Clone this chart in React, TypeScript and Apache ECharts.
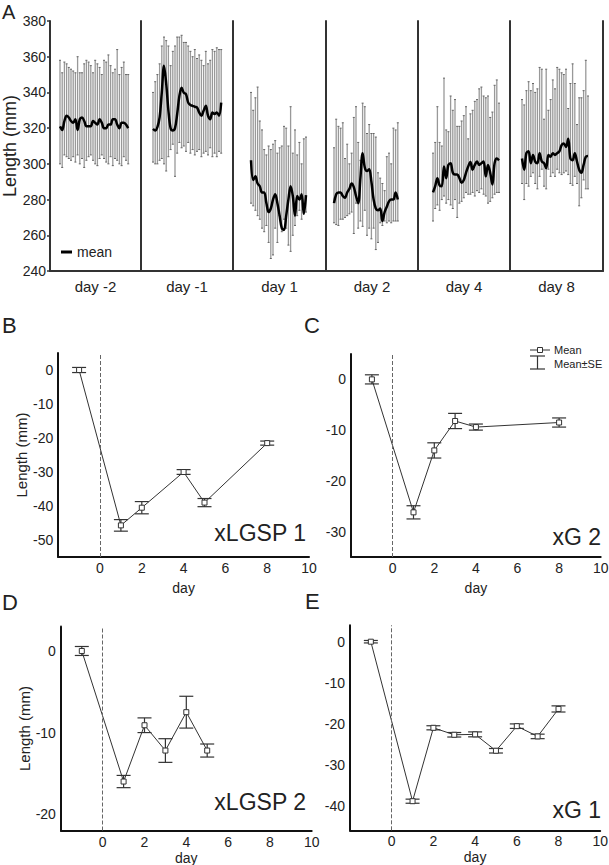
import React, { useEffect, useRef } from 'react';
import * as echarts from 'echarts';

const FONT = "'Liberation Sans', Arial, Helvetica, sans-serif";

// ---------- Panel A data ----------
const dayLabels = ['day -2', 'day -1', 'day 1', 'day 2', 'day 4', 'day 8'];

const topsDm2 = [358, 351, 357, 356, 354, 353, 352, 351, 360, 351, 351, 356, 358, 357, 355, 351, 358, 356, 354, 350, 358, 357, 361, 355, 351, 353, 364, 350, 354, 357, 350, 350];
const botsDm2 = [300, 298, 305, 304, 303, 302, 304, 301, 305, 300, 303, 298, 302, 304, 305, 302, 300, 299, 303, 305, 303, 301, 300, 304, 299, 303, 302, 300, 299, 304, 302, 300];
const meanDm2 = [321, 319, 324, 327, 326, 324, 323, 325, 319, 325, 326, 324, 321, 321, 321, 324, 323, 322, 325, 323, 320, 320, 322, 322, 325, 325, 322, 320, 323, 323, 322, 320];

const topsDm1 = [340, 346, 350, 356, 366, 371, 369, 366, 355, 363, 366, 371, 371, 372, 368, 368, 366, 363, 360, 364, 359, 361, 358, 355, 363, 356, 358, 364, 363, 365, 364, 364];
const botsDm1 = [301, 300, 300, 302, 303, 300, 296, 304, 308, 311, 293, 306, 312, 309, 310, 307, 312, 306, 308, 305, 307, 308, 304, 306, 307, 305, 309, 304, 306, 304, 307, 306];
const meanDm1 = [319.6, 318.7, 320.6, 326, 340, 355, 345, 330, 320, 318.7, 320, 328, 338, 342.6, 339.8, 339, 334.3, 333, 332.5, 332, 331.6, 328.8, 327, 329.7, 332.5, 327, 325, 328.8, 327.9, 328.8, 327, 334.3];

const topsD1 = [340, 330, 337, 343, 324, 319, 308, 305, 310, 308, 311, 313, 306, 309, 310, 321, 320, 310, 332, 306, 319, 305, 312, 300, 314, 315];
const botsD1 = [278, 276.5, 274, 271, 269, 264, 262, 265.5, 256, 247, 249, 264, 256, 271, 262, 269, 264, 254.5, 251, 260, 265.5, 271, 274, 269, 273, 273];
const meanD1 = [302, 291, 293, 289, 287.5, 284, 284, 278, 273, 275, 280, 283, 278, 271, 264, 263, 271, 280, 287.5, 282, 271, 282, 280, 283, 272, 282.5];

const topsD2 = [309, 325, 321, 320, 323, 303, 311, 300, 306, 326, 332, 312, 302, 334, 332, 317, 322, 317, 317, 315, 295, 292, 289, 285, 304, 306, 300, 320, 319, 323];
const botsD2 = [267, 266, 265.5, 269, 269, 270, 271, 272, 273, 261, 278, 264, 268, 265, 274, 260, 264, 258, 264, 252, 256, 267, 265.5, 268, 267, 268, 267, 268, 268, 268];
const meanD2 = [278, 283, 284, 284, 282, 281, 284, 286, 289, 287, 282, 278, 292, 306, 298, 296, 297, 290, 280, 275, 274, 275, 268, 273, 276, 279, 280, 280, 284, 280];

const topsD4 = [306, 312, 332, 312, 310, 348, 319, 318, 338, 330, 336, 321, 321, 324, 327, 332, 314, 328, 330, 335, 336, 342, 343, 338, 337, 338, 326, 329, 344, 347, 334];
const botsD4 = [268, 275, 277, 274, 280, 282, 278, 280, 277, 275, 280, 270, 278, 279, 281, 284, 283, 283, 284, 282, 285, 284, 286, 283, 282, 278, 279, 281, 283, 284, 284];
const meanD4 = [284, 287.5, 292, 288, 287.5, 298.5, 292, 299.4, 300.4, 295, 294, 294, 292, 289.4, 291, 295, 298.5, 301, 296.7, 299.4, 301.3, 299.4, 300.4, 301.3, 293, 299.4, 295, 288.4, 300.4, 303, 302];

const topsD8 = [336, 333, 341, 346, 341, 345, 340, 342, 354, 353, 325, 353, 330, 336, 347, 342, 354, 353, 351, 350, 353, 331, 345, 356, 345, 322, 337, 337, 341, 358, 338];
const botsD8 = [289, 280, 289, 287.5, 293, 295, 289, 286, 293, 297, 287.5, 286, 297, 293, 295, 293, 297, 295, 294, 295, 296, 294, 289, 288, 293, 289, 276.5, 281, 291, 286, 286];
const meanD8 = [303, 296.7, 306, 307, 300.4, 305, 301.3, 300.4, 306, 301.3, 300.4, 297.6, 305, 304, 306, 305, 306, 307, 310.5, 311.4, 309.5, 314, 303, 302, 306, 301.3, 296.7, 295, 299.4, 304, 304.4];

const panelTops = [topsDm2, topsDm1, topsD1, topsD2, topsD4, topsD8];
const panelBots = [botsDm2, botsDm1, botsD1, botsD2, botsD4, botsD8];
const panelMeans = [meanDm2, meanDm1, meanD1, meanD2, meanD4, meanD8];

// ---------- Panels B-E data ----------
const daysB = [-1, 1, 2, 4, 5, 8];
const meanB = [0, -45.7, -40.5, -30, -39, -21.5];
const seB = [0.75, 1.7, 1.8, 0.7, 1.2, 0.6];

const daysC = [-1, 1, 2, 3, 4, 8];
const meanC = [0, -26.2, -14, -8.2, -9.4, -8.5];
const seC = [0.9, 1.3, 1.5, 1.5, 0.6, 0.9];

const daysD = [-1, 1, 2, 3, 4, 5];
const meanD = [0, -16, -9.1, -12.2, -7.5, -12.2];
const seD = [0.55, 0.75, 0.9, 1.45, 1.95, 0.8];

const daysE = [-1, 1, 2, 3, 4, 5, 6, 7, 8];
const meanE = [0, -38.9, -21, -22.7, -22.6, -26.6, -20.6, -23.1, -16.4];
const seE = [0.3, 0.5, 0.5, 0.55, 0.6, 0.55, 0.55, 0.55, 0.75];

const subTitles = ['xLGSP 1', 'xG 2', 'xLGSP 2', 'xG 1'];

// ---------- layout ----------
const aLeft = [50, 141, 233, 326, 418, 510];
const aRight = 603;
const aFirstBar = [60, 153, 251, 334, 433, 522];
const aStep = 2.2;
const aTop = 21;
const aHeight = 250;

const subGrids = [
  { left: 58.2, top: 353, width: 250.8, height: 204, yMin: -55, yMax: 5, yInt: 5, ylab: true, dayGap: 24 },
  { left: 351.1, top: 354, width: 249.6, height: 203, yMin: -35, yMax: 5, yInt: 5, ylab: false, dayGap: 24 },
  { left: 60.9, top: 626.5, width: 250.8, height: 204, yMin: -22, yMax: 3, yInt: 1, ylab: true, dayGap: 20 },
  { left: 350, top: 625.3, width: 250.2, height: 205, yMin: -46, yMax: 4, yInt: 2, ylab: false, dayGap: 20 },
];
const subData = [
  { x: daysB, m: meanB, se: seB },
  { x: daysC, m: meanC, se: seC },
  { x: daysD, m: meanD, se: seD },
  { x: daysE, m: meanE, se: seE },
];

const renderBarA = (_p: any, api: any) => {
  const x = api.value(0);
  const lo = api.coord([x, api.value(1)]);
  const hi = api.coord([x, api.value(2)]);
  return {
    type: 'group',
    children: [
      { type: 'line', shape: { x1: hi[0], y1: hi[1], x2: lo[0], y2: lo[1] }, style: { stroke: '#999', lineWidth: 1.3 } },
      { type: 'line', shape: { x1: hi[0] - 1, y1: hi[1], x2: hi[0] + 1, y2: hi[1] }, style: { stroke: '#666', lineWidth: 1 } },
      { type: 'line', shape: { x1: lo[0] - 1, y1: lo[1], x2: lo[0] + 1, y2: lo[1] }, style: { stroke: '#666', lineWidth: 1 } },
    ],
  };
};

const renderErr = (_p: any, api: any) => {
  const x = api.value(0);
  const lo = api.coord([x, api.value(1)]);
  const hi = api.coord([x, api.value(2)]);
  const w = 7;
  const st = { stroke: '#333', lineWidth: 1.2 };
  return {
    type: 'group',
    children: [
      { type: 'line', shape: { x1: hi[0], y1: hi[1], x2: lo[0], y2: lo[1] }, style: st },
      { type: 'line', shape: { x1: hi[0] - w, y1: hi[1], x2: hi[0] + w, y2: hi[1] }, style: st },
      { type: 'line', shape: { x1: lo[0] - w, y1: lo[1], x2: lo[0] + w, y2: lo[1] }, style: st },
    ],
  };
};

export default function App() {
  const ref = useRef<HTMLDivElement>(null);
  useEffect(() => {
    document.body.style.margin = '0';
    if (!ref.current) return;
    const chart = echarts.init(ref.current, null, { renderer: 'svg' });

    const grid: any[] = [];
    const xAxis: any[] = [];
    const yAxis: any[] = [];
    const series: any[] = [];
    const axisLineA = { show: true, onZero: false, lineStyle: { color: '#333', width: 2 } };

    for (let i = 0; i < 6; i++) {
      const L = aLeft[i];
      const R = i < 5 ? aLeft[i + 1] : aRight;
      const W = R - L;
      const mn = -(aFirstBar[i] - L) / aStep;
      grid.push({ left: L, top: aTop, width: W, height: aHeight, outerBoundsMode: 'none' });
      xAxis.push({
        gridIndex: i, type: 'value', min: mn, max: mn + W / aStep,
        axisLine: axisLineA, axisTick: { show: false }, axisLabel: { show: false }, splitLine: { show: false },
        name: dayLabels[i], nameLocation: 'middle', nameGap: 8,
        nameTextStyle: { fontSize: 15, color: '#222', fontFamily: FONT },
      });
      yAxis.push({
        gridIndex: i, type: 'value', min: 240, max: 380, interval: 20,
        axisLine: axisLineA,
        axisTick: { show: i === 0, length: 3, lineStyle: { color: '#333', width: 1.5 } },
        axisLabel: { show: i === 0, fontSize: 14, color: '#222', fontFamily: FONT, margin: 4 },
        splitLine: { show: false },
        name: i === 0 ? 'Length (mm)' : '', nameLocation: 'middle', nameGap: 28, nameRotate: 90,
        nameTextStyle: { fontSize: 18, color: '#222', fontFamily: FONT },
      });
    }
    // right border of panel A
    yAxis.push({
      gridIndex: 5, type: 'value', position: 'right', min: 240, max: 380, interval: 20,
      axisLine: axisLineA, axisTick: { show: false }, axisLabel: { show: false }, splitLine: { show: false },
    });

    for (let i = 0; i < 6; i++) {
      const tops = panelTops[i];
      const bots = panelBots[i];
      const means = panelMeans[i];
      series.push({
        type: 'custom', xAxisIndex: i, yAxisIndex: i, silent: true,
        renderItem: renderBarA, encode: { x: 0, y: [1, 2] },
        data: tops.map((t, j) => [j, bots[j], t]), z: 2,
      });
      series.push({
        type: 'line', name: 'mean', xAxisIndex: i, yAxisIndex: i, silent: true,
        data: means.map((m, j) => [j, m]), showSymbol: false, symbol: 'none', smooth: 0.35,
        lineStyle: { color: '#000', width: 2.5 }, itemStyle: { color: '#000' }, z: 3,
      });
    }

    const axisLineS = { show: true, onZero: false, lineStyle: { color: '#111', width: 2 } };
    subGrids.forEach((g, k) => {
      const gi = 6 + k;
      const yi = 7 + k;
      grid.push({ left: g.left, top: g.top, width: g.width, height: g.height, outerBoundsMode: 'none' });
      xAxis.push({
        gridIndex: gi, type: 'value', min: -2, max: 10, interval: 2,
        axisLine: axisLineS, axisTick: { show: false }, splitLine: { show: false },
        axisLabel: { fontSize: 14, color: '#222', fontFamily: FONT, margin: 4, formatter: (v: number) => (v < 0 ? '' : String(v)) },
        name: 'day', nameLocation: 'middle', nameGap: g.dayGap,
        nameTextStyle: { fontSize: 14, color: '#222', fontFamily: FONT },
      });
      yAxis.push({
        gridIndex: gi, type: 'value', min: g.yMin, max: g.yMax, interval: g.yInt,
        axisLine: axisLineS, axisTick: { show: false }, splitLine: { show: false },
        axisLabel: {
          fontSize: 14, color: '#222', fontFamily: FONT, margin: 5,
          formatter: (v: number) => (Math.abs(Math.round(v) - v) < 1e-6 && Math.round(v) % 10 === 0 ? String(Math.round(v)) : ''),
        },
        name: g.ylab ? 'Length (mm)' : '', nameLocation: 'middle', nameGap: 28, nameRotate: 90,
        nameTextStyle: { fontSize: 15, color: '#222', fontFamily: FONT },
      });
      const d = subData[k];
      series.push({
        type: 'custom', xAxisIndex: gi, yAxisIndex: yi, silent: true,
        renderItem: renderErr, encode: { x: 0, y: [1, 2] },
        data: d.x.map((xv, j) => [xv, d.m[j] - d.se[j], d.m[j] + d.se[j]]), z: 2,
      });
      series.push({
        type: 'line', name: 'Mean', xAxisIndex: gi, yAxisIndex: yi, silent: true,
        data: d.x.map((xv, j) => [xv, d.m[j]]),
        symbol: 'rect', symbolSize: 5, showSymbol: true,
        itemStyle: { color: '#fff', borderColor: '#333', borderWidth: 1 },
        lineStyle: { color: '#333', width: 1 }, z: 3,
        markLine: {
          silent: true, symbol: ['none', 'none'], label: { show: false },
          lineStyle: { type: 'dashed', color: '#666', width: 1 },
          data: [{ xAxis: 0 }],
        },
      });
    });

    const txt = (text: string, x: number, y: number, size: number, align = 'left', vAlign = 'top') => ({
      type: 'text', x, y,
      style: { text, fontSize: size, fontFamily: FONT, fill: '#222', align, verticalAlign: vAlign },
    });

    const graphic: any[] = [
      txt('A', 2, 2, 20),
      txt('B', 2, 314, 22),
      txt('C', 304, 314, 22),
      txt('D', 2, 591, 22),
      txt('E', 305, 590, 22),
      txt(subTitles[0], 306, 533, 23, 'right', 'middle'),
      txt(subTitles[1], 601, 537, 23, 'right', 'middle'),
      txt(subTitles[2], 306, 802, 23, 'right', 'middle'),
      txt(subTitles[3], 601, 810, 23, 'right', 'middle'),
      // legend in C
      { type: 'line', shape: { x1: 530, y1: 350, x2: 550, y2: 350 }, style: { stroke: '#333', lineWidth: 1 } },
      { type: 'rect', shape: { x: 537.5, y: 347.5, width: 5, height: 5 }, style: { fill: '#fff', stroke: '#333', lineWidth: 1 } },
      txt('Mean', 554, 350, 11, 'left', 'middle'),
      { type: 'line', shape: { x1: 537.5, y1: 356, x2: 537.5, y2: 369 }, style: { stroke: '#333', lineWidth: 1.2 } },
      { type: 'line', shape: { x1: 530, y1: 356, x2: 545, y2: 356 }, style: { stroke: '#333', lineWidth: 1.2 } },
      { type: 'line', shape: { x1: 530, y1: 369, x2: 545, y2: 369 }, style: { stroke: '#333', lineWidth: 1.2 } },
      txt('Mean±SE', 554, 364, 11, 'left', 'middle'),
    ];

    chart.setOption({
      animation: false,
      backgroundColor: '#fff',
      textStyle: { fontFamily: FONT },
      legend: {
        data: [{ name: 'mean', icon: 'rect' }],
        left: 56, top: 240, itemWidth: 11, itemHeight: 3, itemGap: 4,
        selectedMode: false,
        textStyle: { fontSize: 14, color: '#222', fontFamily: FONT },
      },
      grid, xAxis, yAxis, series, graphic,
    });
    return () => chart.dispose();
  }, []);
  return <div ref={ref} style={{ position: 'absolute', left: 0, top: 0, width: 609, height: 865 }} />;
}
